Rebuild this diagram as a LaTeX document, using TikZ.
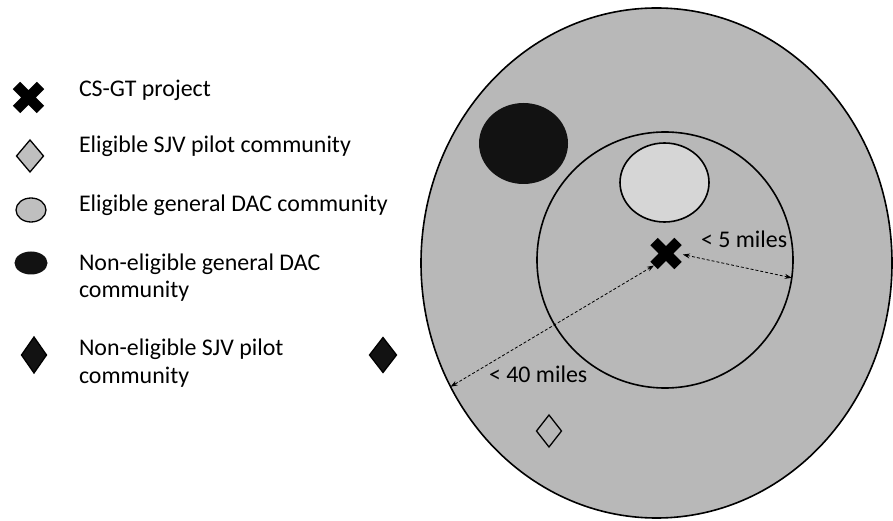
\documentclass[tikz,border=0pt]{standalone}
\usepackage{fontspec}
\setmainfont{Carlito}
\usetikzlibrary{shapes.geometric,shapes.misc,arrows.meta}
\definecolor{bgfill}{gray}{0.72}
\definecolor{lightfill}{gray}{0.84}
\definecolor{legfill}{gray}{0.75}
\definecolor{darkfill}{gray}{0.07}
\begin{document}
\begin{tikzpicture}[x=1bp,y=-1bp,
  every node/.style={inner sep=0pt,outer sep=0pt},
  lbl/.style={anchor=base west,font=\fontsize{24}{28}\selectfont,align=left},
  crossmark/.style={cross out,draw=black,line width=10.5bp,minimum size=24bp},
  ring/.style={ellipse,draw=black,line width=1.6bp},
  ldiamond/.style={diamond,draw=black,line width=1.3bp,fill=legfill},
  ddiamond/.style={diamond,draw=black,line width=1.3bp,fill=darkfill},
  dist/.style={densely dashed,line width=0.8bp,{Stealth[length=7bp,width=5bp]}-{Stealth[length=7bp,width=5bp]}}
]
\useasboundingbox (0,0) rectangle (893,521);
\fill[white] (0,0) rectangle (893,521);

% map
\node[ring,fill=bgfill,minimum width=471bp,minimum height=510bp] (big) at (656.5,263) {};
\node[ellipse,fill=darkfill,minimum width=89bp,minimum height=81bp] (dark) at (523.5,143.5) {};
\node[ring,minimum width=256bp,minimum height=256bp] (inner) at (665,260) {};
\node[ring,fill=lightfill,minimum width=89bp,minimum height=79bp] (light) at (664.5,182.5) {};
\node[crossmark] (proj) at (666,253.5) {};
\node[diamond,draw=black,line width=1.3bp,minimum width=25bp,minimum height=32bp] (sjv) at (549,431) {};
\node[ddiamond,minimum width=27bp,minimum height=35bp] (nsjv) at (383,355) {};

\draw[dist,shorten <=5bp] (proj.east) -- (inner.-8);
\draw[dist] (proj.south west) -- (big.211);
\node[lbl] (l5) at (701,248) {< 5 miles};
\node[lbl] (l40) at (489,382) {< 40 miles};

% legend
\node[crossmark] (k1) at (28.5,97.5) {};
\node[ldiamond,minimum width=27bp,minimum height=32bp] (k2) at (30,156) {};
\node[ellipse,draw=black,line width=1.3bp,fill=legfill,minimum width=30bp,minimum height=24bp] (k3) at (31,210) {};
\node[ellipse,fill=darkfill,minimum width=33bp,minimum height=23bp] (k4) at (31,263) {};
\node[ddiamond,minimum width=25bp,minimum height=36bp] (k5) at (34,355) {};

\node[lbl] (t1) at (79,97) {CS-GT project};
\node[lbl] (t2) at (79,153) {Eligible SJV pilot community};
\node[lbl] (t3) at (79,212) {Eligible general DAC community};
\node[lbl] (t4) at (79,298) {Non-eligible general DAC\\community};
\node[lbl] (t5) at (79,383) {Non-eligible SJV pilot\\community};
\end{tikzpicture}
\end{document}
